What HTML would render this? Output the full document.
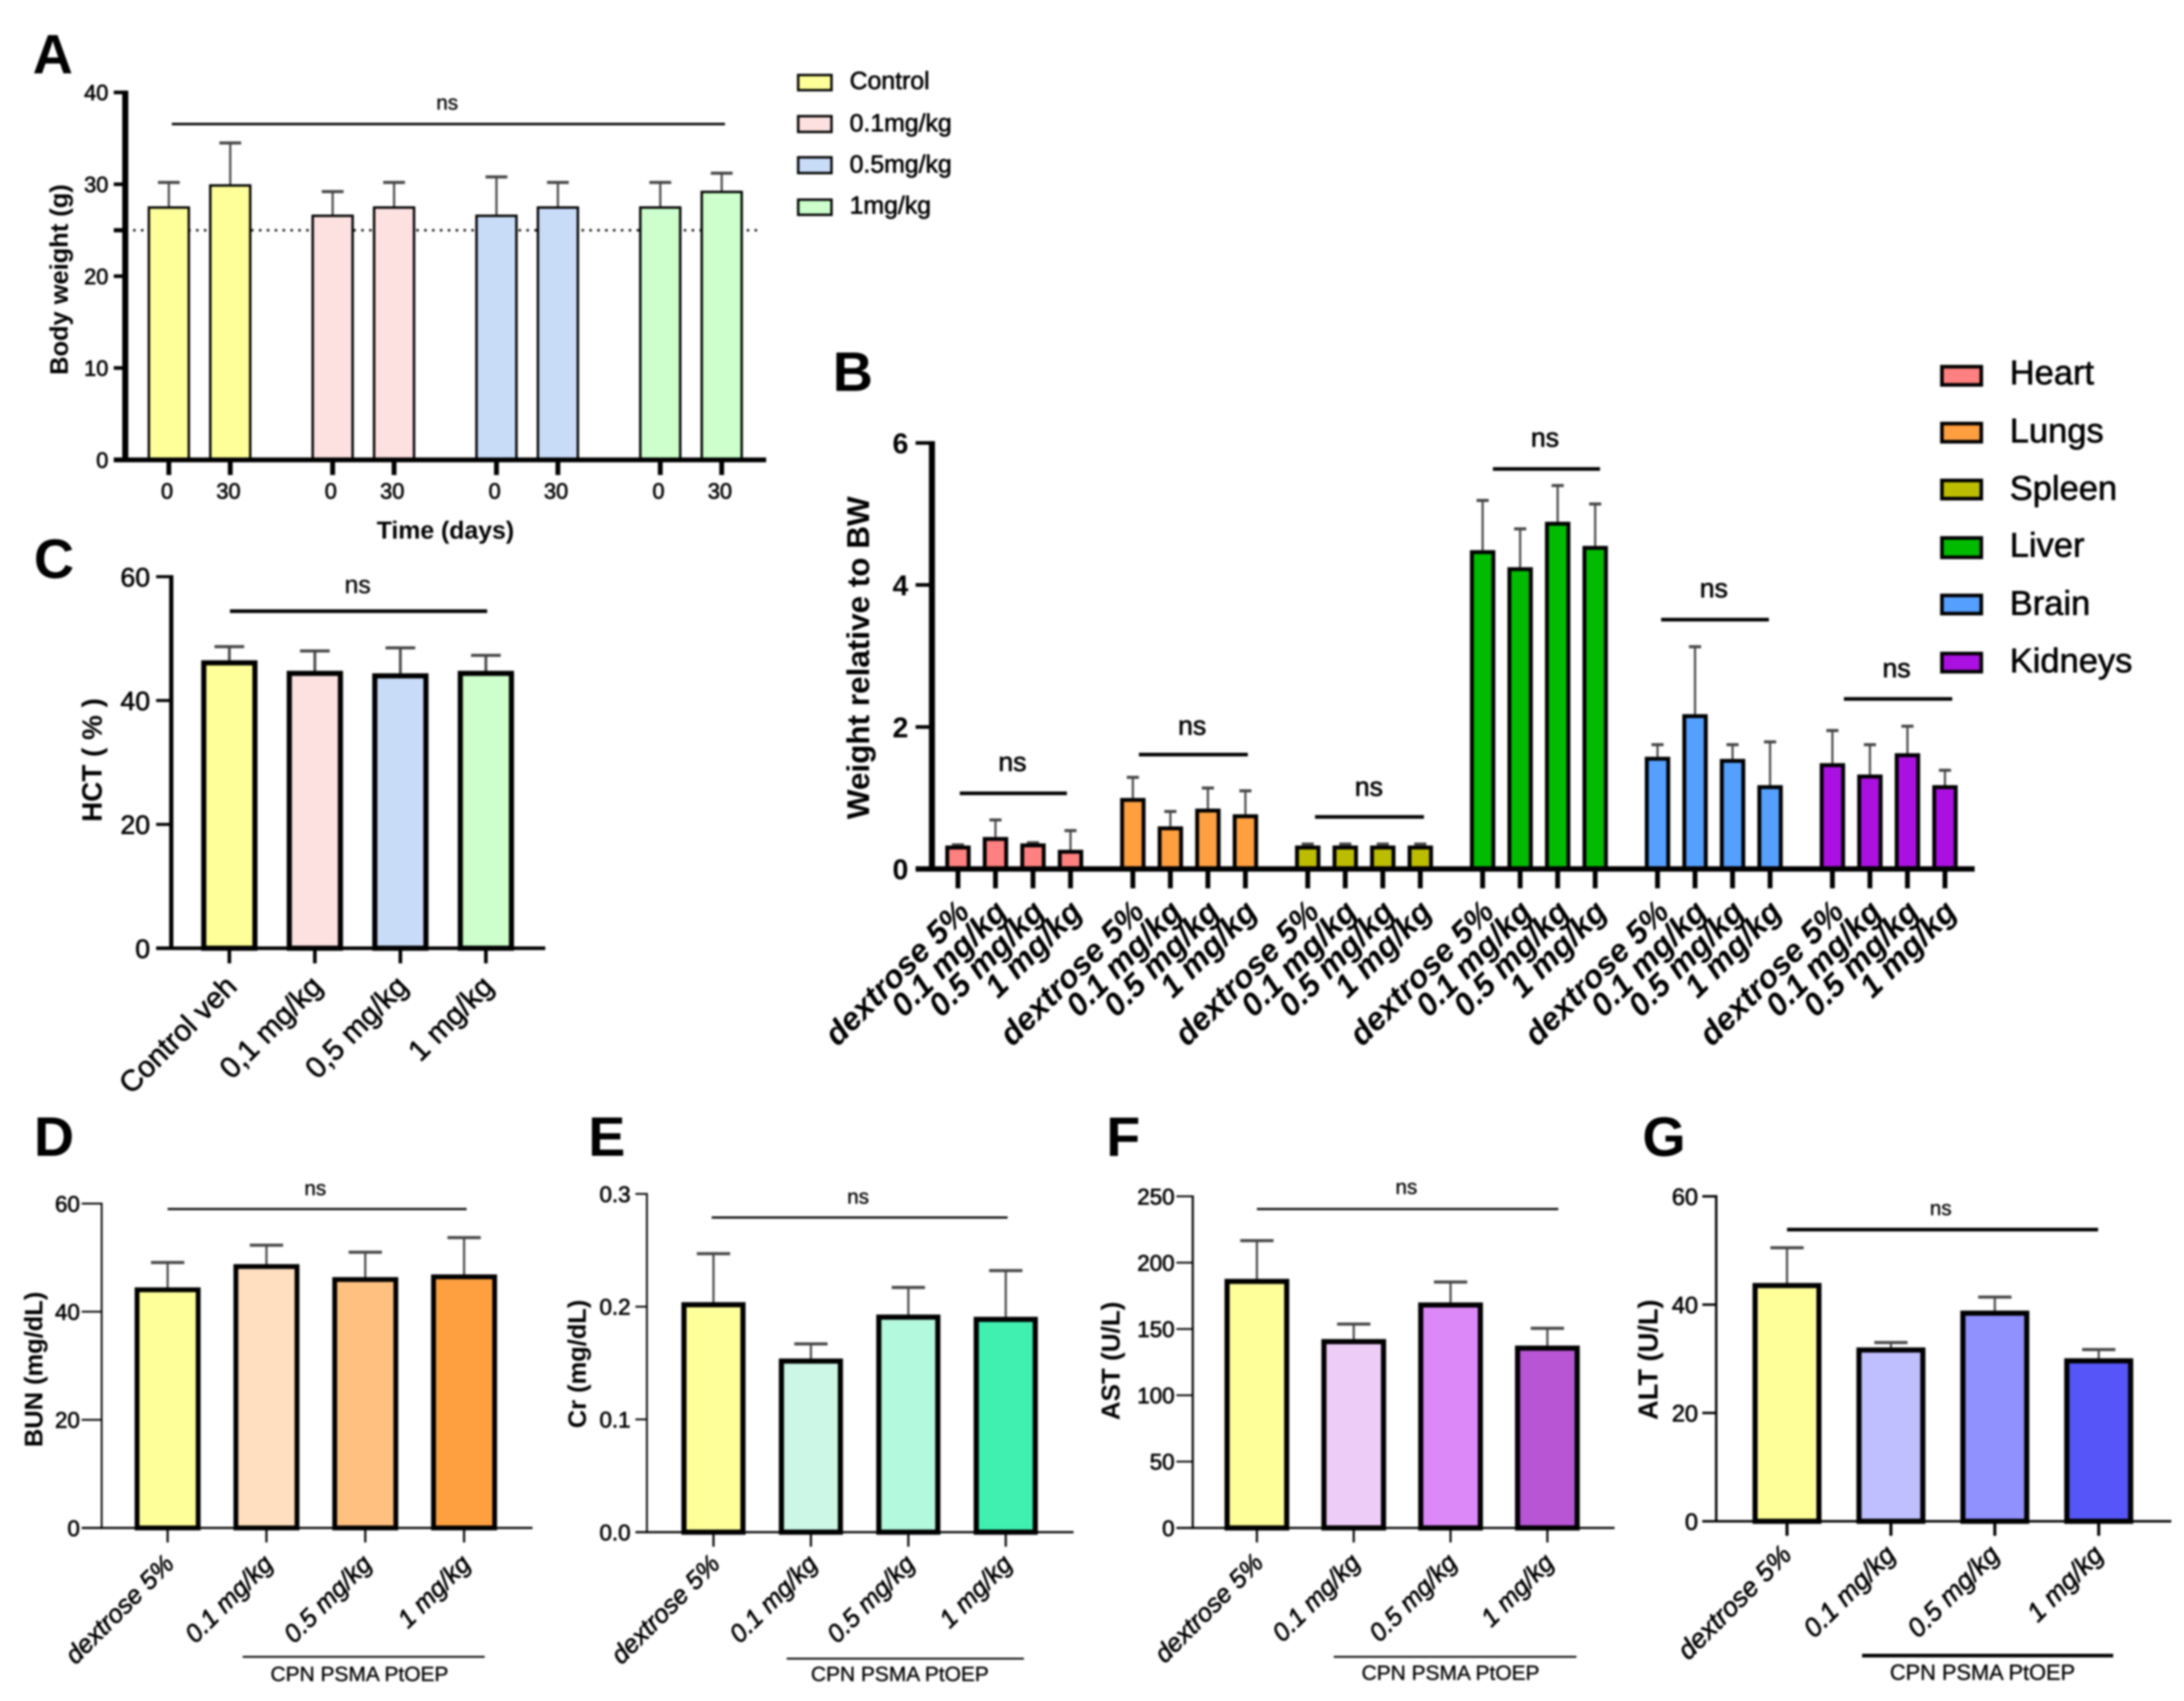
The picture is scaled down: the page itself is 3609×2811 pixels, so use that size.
<!DOCTYPE html>
<html lang="en">
<head>
<meta charset="utf-8">
<title>Multi-panel toxicity bar charts</title>
<style>
html,body{margin:0;padding:0;background:#fff;}
#figure{display:block;width:3609px;height:2811px;filter:blur(1.5px);font-family:"Liberation Sans",Arial,sans-serif;fill:#000;}
.letter{font-size:92px;font-weight:700;}
.title{font-weight:700;text-anchor:middle;}
.ns{text-anchor:middle;stroke:#000;stroke-width:.5px;}
.reg{stroke:#000;stroke-width:1px;}
</style>
</head>
<body>
<svg id="figure" xmlns="http://www.w3.org/2000/svg" width="3609" height="2811" viewBox="0 0 3609 2811">
  <rect x="0" y="0" width="3609" height="2811" fill="#fff"/>

  <text class="letter" x="54" y="121">A</text>
  <text class="letter" x="1376" y="646">B</text>
  <text class="letter" x="56" y="955">C</text>
  <text class="letter" x="56" y="1910">D</text>
  <text class="letter" x="972" y="1910">E</text>
  <text class="letter" x="1828" y="1910">F</text>
  <text class="letter" x="2714" y="1910">G</text>

  <g id="panel-a">
    <text class="title" font-size="42" transform="translate(112 462) rotate(-90)">Body weight (g)</text>
    <text class="title" font-size="41" x="736" y="890">Time (days)</text>
    <line x1="284" x2="1198" y1="205" y2="205" stroke="#000" stroke-width="4"/>
    <text class="ns" font-size="34" x="739" y="181">ns</text>
    <g>
      <rect x="1319" y="124" width="55" height="25" fill="#ffff99" stroke="#000" stroke-width="4"/>
      <text class="reg" font-size="41" x="1404" y="147">Control</text>
    </g>
    <g>
      <rect x="1319" y="192" width="55" height="26" fill="#fde0e0" stroke="#000" stroke-width="4"/>
      <text class="reg" font-size="41" x="1404" y="217">0.1mg/kg</text>
    </g>
    <g>
      <rect x="1319" y="260" width="55" height="26" fill="#c8dcf8" stroke="#000" stroke-width="4"/>
      <text class="reg" font-size="41" x="1404" y="285">0.5mg/kg</text>
    </g>
    <g>
      <rect x="1319" y="330" width="55" height="25" fill="#ccffcc" stroke="#000" stroke-width="4"/>
      <text class="reg" font-size="41" x="1404" y="353">1mg/kg</text>
    </g>
  </g>

  <g id="panel-b">
    <text class="title" font-size="52" transform="translate(1436 1087) rotate(-90)">Weight relative to BW</text>
    <line x1="1586" x2="1763" y1="1311" y2="1311" stroke="#000" stroke-width="6"/>
    <text class="ns reg" font-size="44" x="1673" y="1274">ns</text>
    <line x1="1882" x2="2062" y1="1247" y2="1247" stroke="#000" stroke-width="6"/>
    <text class="ns reg" font-size="44" x="1970" y="1214">ns</text>
    <line x1="2173" x2="2353" y1="1350" y2="1350" stroke="#000" stroke-width="6"/>
    <text class="ns reg" font-size="44" x="2262" y="1315">ns</text>
    <line x1="2467" x2="2644" y1="775" y2="775" stroke="#000" stroke-width="6"/>
    <text class="ns reg" font-size="44" x="2553" y="738">ns</text>
    <line x1="2745" x2="2923" y1="1024" y2="1024" stroke="#000" stroke-width="6"/>
    <text class="ns reg" font-size="44" x="2832" y="987">ns</text>
    <line x1="3047" x2="3226" y1="1155" y2="1155" stroke="#000" stroke-width="6"/>
    <text class="ns reg" font-size="44" x="3134" y="1119">ns</text>
    <g>
      <rect x="3209" y="606" width="65" height="30" fill="#ff8080" stroke="#000" stroke-width="6"/>
      <text class="reg" font-size="57" x="3321" y="635">Heart</text>
    </g>
    <g>
      <rect x="3209" y="700" width="65" height="30" fill="#ff9f40" stroke="#000" stroke-width="6"/>
      <text class="reg" font-size="57" x="3321" y="731">Lungs</text>
    </g>
    <g>
      <rect x="3209" y="794" width="65" height="30" fill="#bdbd00" stroke="#000" stroke-width="6"/>
      <text class="reg" font-size="57" x="3321" y="826">Spleen</text>
    </g>
    <g>
      <rect x="3209" y="889" width="65" height="32" fill="#00bb00" stroke="#000" stroke-width="6"/>
      <text class="reg" font-size="57" x="3321" y="920">Liver</text>
    </g>
    <g>
      <rect x="3209" y="984" width="65" height="30" fill="#55a0ff" stroke="#000" stroke-width="6"/>
      <text class="reg" font-size="57" x="3321" y="1016">Brain</text>
    </g>
    <g>
      <rect x="3209" y="1080" width="65" height="30" fill="#aa11e0" stroke="#000" stroke-width="6"/>
      <text class="reg" font-size="57" x="3321" y="1111">Kidneys</text>
    </g>
  </g>

  <g id="panel-c">
    <text class="title" font-size="46" transform="translate(168 1256) rotate(-90)">HCT ( % )</text>
    <line x1="380" x2="805" y1="1010" y2="1010" stroke="#000" stroke-width="6"/>
    <text class="ns" font-size="41" x="591" y="980">ns</text>
  </g>

  <g id="panel-d">
    <text class="title" font-size="42" transform="translate(70 2263) rotate(-90)">BUN (mg/dL)</text>
    <line x1="277" x2="771" y1="1998" y2="1998" stroke="#000" stroke-width="3.5"/>
    <text class="ns" font-size="34" x="521" y="1975">ns</text>
    <line x1="401" x2="801" y1="2738" y2="2738" stroke="#000" stroke-width="3"/>
    <text class="ns" font-size="34.6" x="594" y="2778">CPN PSMA PtOEP</text>
  </g>

  <g id="panel-e">
    <text class="title" font-size="42" transform="translate(968 2254) rotate(-90)">Cr (mg/dL)</text>
    <line x1="1176" x2="1665" y1="2012" y2="2012" stroke="#000" stroke-width="3.5"/>
    <text class="ns" font-size="34" x="1418" y="1989">ns</text>
    <line x1="1300" x2="1692" y1="2741" y2="2741" stroke="#000" stroke-width="3"/>
    <text class="ns" font-size="34.6" x="1487" y="2778">CPN PSMA PtOEP</text>
  </g>

  <g id="panel-f">
    <text class="title" font-size="43" transform="translate(1850 2249) rotate(-90)">AST (U/L)</text>
    <line x1="2077" x2="2575" y1="1998" y2="1998" stroke="#000" stroke-width="3.5"/>
    <text class="ns" font-size="34" x="2324" y="1973">ns</text>
    <line x1="2204" x2="2605" y1="2738" y2="2738" stroke="#000" stroke-width="3"/>
    <text class="ns" font-size="34.6" x="2397" y="2776">CPN PSMA PtOEP</text>
  </g>

  <g id="panel-g">
    <text class="title" font-size="45" transform="translate(2739 2247) rotate(-90)">ALT (U/L)</text>
    <line x1="2953" x2="3467" y1="2032" y2="2032" stroke="#000" stroke-width="6"/>
    <text class="ns" font-size="34" x="3207" y="2008">ns</text>
    <line x1="3077" x2="3492" y1="2736" y2="2736" stroke="#000" stroke-width="6"/>
    <text class="ns" font-size="36" x="3276" y="2776">CPN PSMA PtOEP</text>
  </g>
</svg>

<script>
// ---- Panel A: body weight ----
const aCategories = ['0', '30', '0', '30', '0', '30', '0', '30'];
const aValues = [27.6, 30, 26.7, 27.6, 26.7, 27.6, 27.6, 29.3];
const aErrorTops = [30.2, 34.5, 29.2, 30.2, 30.8, 30.2, 30.2, 31.2];
const aTicks = ['0', '10', '20', '30', '40'];
const aReference = 25;

// ---- Panel B: organ weight relative to body weight ----
const bCategories = ['dextrose 5%', '0.1 mg/kg', '0.5 mg/kg', '1 mg/kg'];
const bOrgans = ['Heart', 'Lungs', 'Spleen', 'Liver', 'Brain', 'Kidneys'];
const bHeart = [0.33, 0.45, 0.36, 0.27];
const bHeartErr = [0.34, 0.69, 0.37, 0.54];
const bLungs = [1.0, 0.6, 0.85, 0.77];
const bLungsErr = [1.29, 0.81, 1.14, 1.1];
const bSpleen = [0.33, 0.33, 0.33, 0.33];
const bSpleenErr = [0.35, 0.35, 0.35, 0.35];
const bLiver = [4.49, 4.25, 4.89, 4.55];
const bLiverErr = [5.19, 4.79, 5.4, 5.14];
const bBrain = [1.58, 2.18, 1.55, 1.18];
const bBrainErr = [1.75, 3.13, 1.75, 1.79];
const bKidneys = [1.49, 1.33, 1.63, 1.18];
const bKidneysErr = [1.95, 1.75, 2.01, 1.39];
const bTicks = ['0', '2', '4', '6'];

// ---- Panel C: hematocrit ----
const cCategories = ['Control veh', '0,1 mg/kg', '0,5 mg/kg', '1 mg/kg'];
const cValues = [46.5, 44.8, 44.4, 44.8];
const cErrorTops = [48.7, 48, 48.5, 47.3];
const cTicks = ['0', '20', '40', '60'];

// ---- Panels D-G: serum chemistry ----
const doseCategories = ['dextrose 5%', '0.1 mg/kg', '0.5 mg/kg', '1 mg/kg'];
const dValues = [44.5, 48.8, 46.4, 46.9];
const dErrorTops = [49.1, 52.3, 51, 53.7];
const dTicks = ['0', '20', '40', '60'];
const eValues = [0.204, 0.154, 0.193, 0.191];
const eErrorTops = [0.247, 0.167, 0.217, 0.232];
const eTicks = ['0.0', '0.1', '0.2', '0.3'];
const fValues = [187.8, 142.4, 170, 137.5];
const fErrorTops = [216.6, 153.7, 185.4, 150.5];
const fTicks = ['0', '50', '100', '150', '200', '250'];
const gValues = [44, 32.1, 38.9, 30.1];
const gErrorTops = [50.5, 33, 41.4, 31.7];
const gTicks = ['0', '20', '40', '60'];

// ---- Fill colours ----
const aFills = ['#ffff99', '#ffff99', '#fde0e0', '#fde0e0', '#c8dcf8', '#c8dcf8', '#ccffcc', '#ccffcc'];
const bFills = ['#ff8080', '#ff9f40', '#bdbd00', '#00bb00', '#55a0ff', '#aa11e0'];
const cFills = ['#ffff99', '#fde0e0', '#c8dcf8', '#ccffcc'];
const dFills = ['#ffff99', '#ffdfbf', '#ffc080', '#ffa040'];
const eFills = ['#ffff99', '#ccf7e6', '#b3f9dd', '#40f0b0'];
const fFills = ['#ffff99', '#eeccf8', '#dd88f8', '#b855d5'];
const gFills = ['#ffff99', '#bfbfff', '#9090ff', '#5555f8'];

const SVGNS = 'http://www.w3.org/2000/svg';

function add(parent, tag, attrs, text) {
  const node = document.createElementNS(SVGNS, tag);
  for (const key in attrs) node.setAttribute(key, attrs[key]);
  if (text !== undefined) node.textContent = text;
  parent.appendChild(node);
  return node;
}

function linearY(y0, yTop, max) {
  return function (v) { return y0 - (v / max) * (y0 - yTop); };
}

function drawBar(g, cx, value, top, fill, y, p) {
  const s = p.barStroke;
  const yv = y(value);
  const whisker = add(g, 'line', { x1: cx, x2: cx, y1: y(top), y2: yv, stroke: '#444', 'stroke-width': p.errWidth });
  
  
  const cap = add(g, 'line', { x1: cx - p.capWidth / 2, x2: cx + p.capWidth / 2, y1: y(top), y2: y(top), stroke: '#444', 'stroke-width': p.capThick });
  
  
  const bar = add(g, 'rect', {
    x: cx - p.barWidth / 2 + s / 2,
    y: yv + s / 2,
    width: p.barWidth - s,
    height: Math.max(0, y(0) - yv - s / 2),
    fill: fill,
    stroke: '#000',
    'stroke-width': s
  });
  
  
}

function drawAxes(g, ticks, y, p) {
  const yAxis = add(g, 'line', { x1: p.axisX, x2: p.axisX, y1: y(Number(ticks[ticks.length - 1])) - p.tickThick / 2, y2: y(0) + p.baseThick / 2, stroke: '#000', 'stroke-width': p.axisThick });
  
  
  const xAxis = add(g, 'line', { x1: p.axisStart, x2: p.axisEnd, y1: y(0), y2: y(0), stroke: '#000', 'stroke-width': p.baseThick });
  
  
  ticks.forEach(function (label) {
    const yy = y(Number(label));
    const tick = add(g, 'line', { x1: p.axisStart, x2: p.axisX, y1: yy, y2: yy, stroke: '#000', 'stroke-width': p.tickThick });
    
    
    const text = add(g, 'text', { x: p.axisStart - p.labelGap, y: yy + p.tickFont * 0.36, 'font-size': p.tickFont, 'text-anchor': 'end', 'font-weight': p.tickWeight, class: p.tickWeight === 700 ? '' : 'reg' }, label);
    
    
  });
}

function drawCategory(g, cx, label, y, p) {
  const tick = add(g, 'line', { x1: cx, x2: cx, y1: y(0), y2: y(0) + p.xTickLen, stroke: '#000', 'stroke-width': p.xTickThick });
  
  
  const ax = cx + p.catDx;
  const ay = y(0) + p.catDy;
  const text = add(g, 'text', {
    x: ax, y: ay,
    'font-size': p.catFont,
    'font-weight': p.catWeight,
    'font-style': p.catStyle,
    'text-anchor': p.catAngle ? 'end' : 'middle',
    class: p.catWeight === 700 ? '' : 'reg',
    transform: p.catAngle ? 'rotate(' + p.catAngle + ' ' + ax + ' ' + ay + ')' : ''
  }, label);
  
  
}

function drawPanel(id, categories, values, tops, fills, ticks, x, y, p) {
  const g = document.getElementById(id);
  values.forEach(function (v, i) {
    drawBar(g, x(i), v, tops[i], fills[i], y, p);
    drawCategory(g, x(i), categories[i], y, p);
  });
  drawAxes(g, ticks, y, p);
}

// Panel A
const yA = linearY(760, 152.7, 40);
const xA = function (i) { return 279 + 270.7 * Math.floor(i / 2) + 101.5 * (i % 2); };
const dotted = add(document.getElementById('panel-a'), 'line', { x1: 207, x2: 1255, y1: yA(aReference), y2: yA(aReference), stroke: '#111', 'stroke-width': 4, 'stroke-dasharray': '4 9' });


const refTick = add(document.getElementById('panel-a'), 'line', { x1: 188, x2: 207, y1: yA(aReference), y2: yA(aReference), stroke: '#000', 'stroke-width': 7 });


drawPanel('panel-a', aCategories, aValues, aErrorTops, aFills, aTicks, xA, yA, {
  barWidth: 70, barStroke: 4, errWidth: 3.5, capWidth: 36, capThick: 5,
  axisX: 207, axisStart: 188, axisEnd: 1266, axisThick: 10, baseThick: 8, tickThick: 6, tickFont: 36, tickWeight: 400, labelGap: 9,
  xTickLen: 25, xTickThick: 8, catFont: 36, catWeight: 400, catStyle: 'normal', catAngle: 0, catDx: -3, catDy: 64
});

// Panel B
const yB = linearY(1436, 732, 6);
const xB = function (groupIndex, i) { return 1583 + 289 * groupIndex + 62 * i; };
const bSeries = [bHeart, bLungs, bSpleen, bLiver, bBrain, bKidneys];
const bSeriesErr = [bHeartErr, bLungsErr, bSpleenErr, bLiverErr, bBrainErr, bKidneysErr];
const bStyle = {
  barWidth: 42, barStroke: 6.5, errWidth: 3.5, capWidth: 20, capThick: 5,
  axisX: 1540, axisStart: 1513, axisEnd: 3263, axisThick: 10, baseThick: 9, tickThick: 6, tickFont: 47, tickWeight: 700, labelGap: 12,
  xTickLen: 32, xTickThick: 8, catFont: 53, catWeight: 700, catStyle: 'italic', catAngle: -45, catDx: 22, catDy: 74
};
bOrgans.forEach(function (organ, groupIndex) {
  const xGroup = function (i) { return xB(groupIndex, i); };
  const fills = bCategories.map(function () { return bFills[groupIndex]; });
  const group = add(document.getElementById('panel-b'), 'g', { id: 'panel-b-' + organ });
  
  
  bSeries[groupIndex].forEach(function (v, i) {
    drawBar(group, xGroup(i), v, bSeriesErr[groupIndex][i], fills[i], yB, bStyle);
    drawCategory(group, xGroup(i), bCategories[i], yB, bStyle);
  });
});
drawAxes(document.getElementById('panel-b'), bTicks, yB, bStyle);

// Panel C
const yC = linearY(1567, 953, 60);
drawPanel('panel-c', cCategories, cValues, cErrorTops, cFills, cTicks, function (i) { return 379 + 141.3 * i; }, yC, {
  barWidth: 93, barStroke: 8.5, errWidth: 4.5, capWidth: 49, capThick: 5,
  axisX: 283, axisStart: 258, axisEnd: 901, axisThick: 7, baseThick: 6, tickThick: 5, tickFont: 44, tickWeight: 400, labelGap: 10,
  xTickLen: 25, xTickThick: 6, catFont: 49, catWeight: 400, catStyle: 'normal', catAngle: -45, catDx: 15, catDy: 66
});

// Panels D-G
const thinStyle = {
  errWidth: 3.5, capWidth: 55, capThick: 5, tickThick: 3, tickFont: 37, tickWeight: 400, labelGap: 3,
  xTickLen: 24, xTickThick: 3.5, catFont: 42, catWeight: 400, catStyle: 'italic', catAngle: -45, catDx: 13, catDy: 62
};
drawPanel('panel-d', doseCategories, dValues, dErrorTops, dFills, dTicks, function (i) { return 277 + 163.3 * i; }, linearY(2525, 1989, 60),
  Object.assign({}, thinStyle, { barWidth: 109, barStroke: 8, axisX: 168, axisStart: 135, axisEnd: 880, axisThick: 3, baseThick: 3.5 }));
drawPanel('panel-e', doseCategories, eValues, eErrorTops, eFills, eTicks, function (i) { return 1179 + 161 * i; }, linearY(2532, 1973, 0.3),
  Object.assign({}, thinStyle, { barWidth: 106, barStroke: 8.5, axisX: 1069, axisStart: 1050, axisEnd: 1774, axisThick: 3, baseThick: 3.5, labelGap: 8, catDy: 55 }));
drawPanel('panel-f', doseCategories, fValues, fErrorTops, fFills, fTicks, function (i) { return 2077 + 160 * i; }, linearY(2525, 1977, 250),
  Object.assign({}, thinStyle, { barWidth: 107, barStroke: 8.5, axisX: 1971, axisStart: 1944, axisEnd: 2668, axisThick: 3.5, baseThick: 3.5, catDy: 60 }));
drawPanel('panel-g', doseCategories, gValues, gErrorTops, gFills, gTicks, function (i) { return 2953 + 171.7 * i; }, linearY(2514, 1977, 60),
  Object.assign({}, thinStyle, { barWidth: 114, barStroke: 8.5, axisX: 2836, axisStart: 2813, axisEnd: 3588, axisThick: 4, baseThick: 4, tickThick: 4, xTickThick: 5, tickFont: 39, labelGap: 7, catFont: 44, catDx: 10, catDy: 58 }));
</script>
</body>
</html>
